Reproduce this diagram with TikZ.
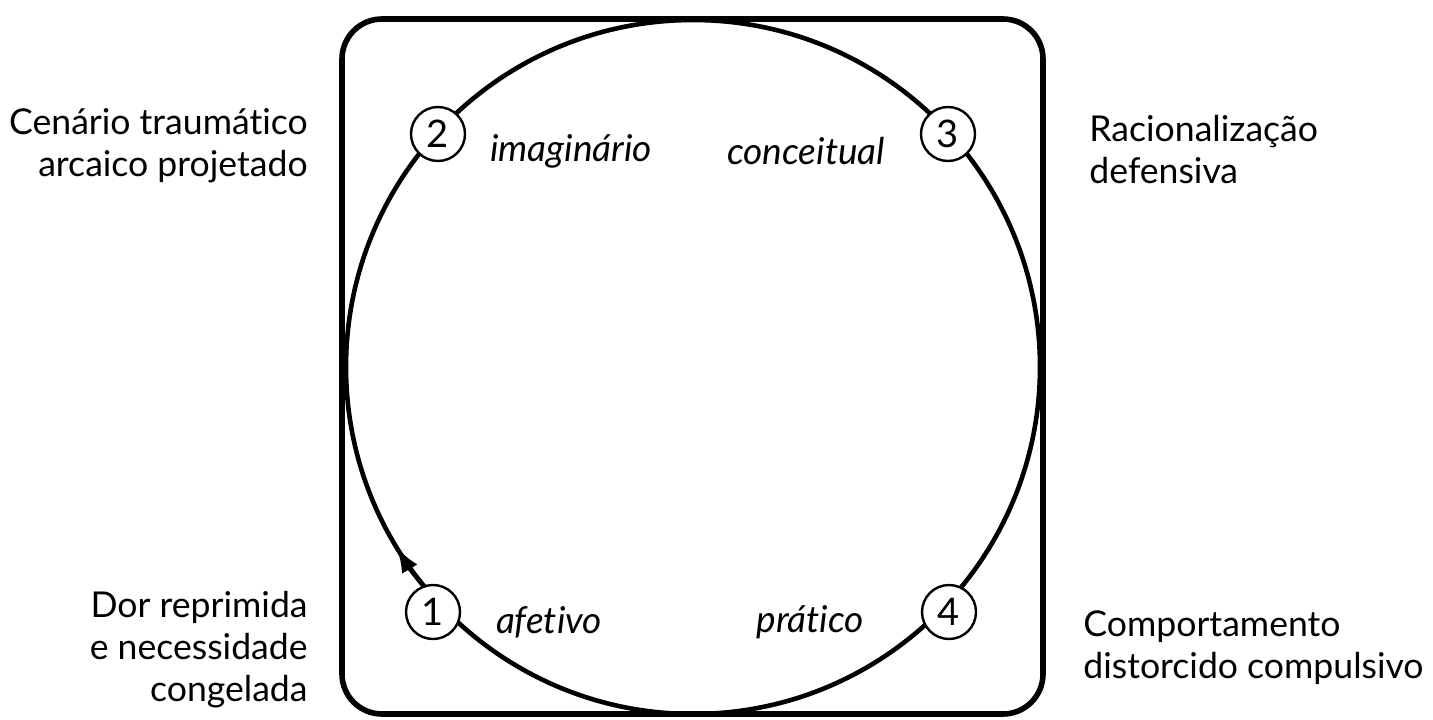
\documentclass[tikz,border=0pt]{standalone}
\usepackage{fontspec}
\setmainfont{Lato}[Ligatures={NoCommon}]
\usetikzlibrary{arrows.meta,calc}

\begin{document}
\begin{tikzpicture}[x=0.5pt,y=0.5pt,
  numnode/.style={circle,draw,line width=1.2pt,fill=white,minimum size=27pt,inner sep=0pt,font=\fontsize{19}{20}\selectfont},
  stage/.style={font=\fontsize{18.5}{20}\selectfont\itshape},
  note/.style={font=\fontsize{17.8}{21}\selectfont,inner sep=0pt}]
\useasboundingbox (0,0) rectangle (1433,719);
% frame and cycle
\draw[line width=2.8pt,rounded corners=20pt] (342,5) rectangle (1043,700);
\coordinate (c) at (693,352);
\draw[line width=2.3pt] (c) circle[radius=347];
\draw[line width=2.3pt,-{Latex[length=13pt,width=9pt]}] ($(c)+(222:347)$) arc[start angle=222,end angle=211.2,radius=347];
% numbered stages
\node[numnode] (n1) at (433,107) {1};
\node[numnode] (n2) at (438,585) {2};
\node[numnode] (n3) at (948,585) {3};
\node[numnode] (n4) at (949,107) {4};
\node[stage,anchor=west] (afetivo) at (489,97) {afetivo};
\node[stage,anchor=west] (imag) at (483,568) {imaginário};
\node[stage,anchor=east] (conc) at (892,568) {conceitual};
\node[stage,anchor=east] (prat) at (871,97) {prático};
% side notes
\node[note,anchor=east,align=right] (dor) at (308,69) {Dor reprimida\\e necessidade\\congelada};
\node[note,anchor=east,align=right] (cen) at (308,573) {Cenário traumático\\arcaico projetado};
\node[note,anchor=west,align=left] (rac) at (1089,569) {Racionalização\\defensiva};
\node[note,anchor=west,align=left] (comp) at (1083,71) {Comportamento\\distorcido compulsivo};
\end{tikzpicture}
\end{document}
